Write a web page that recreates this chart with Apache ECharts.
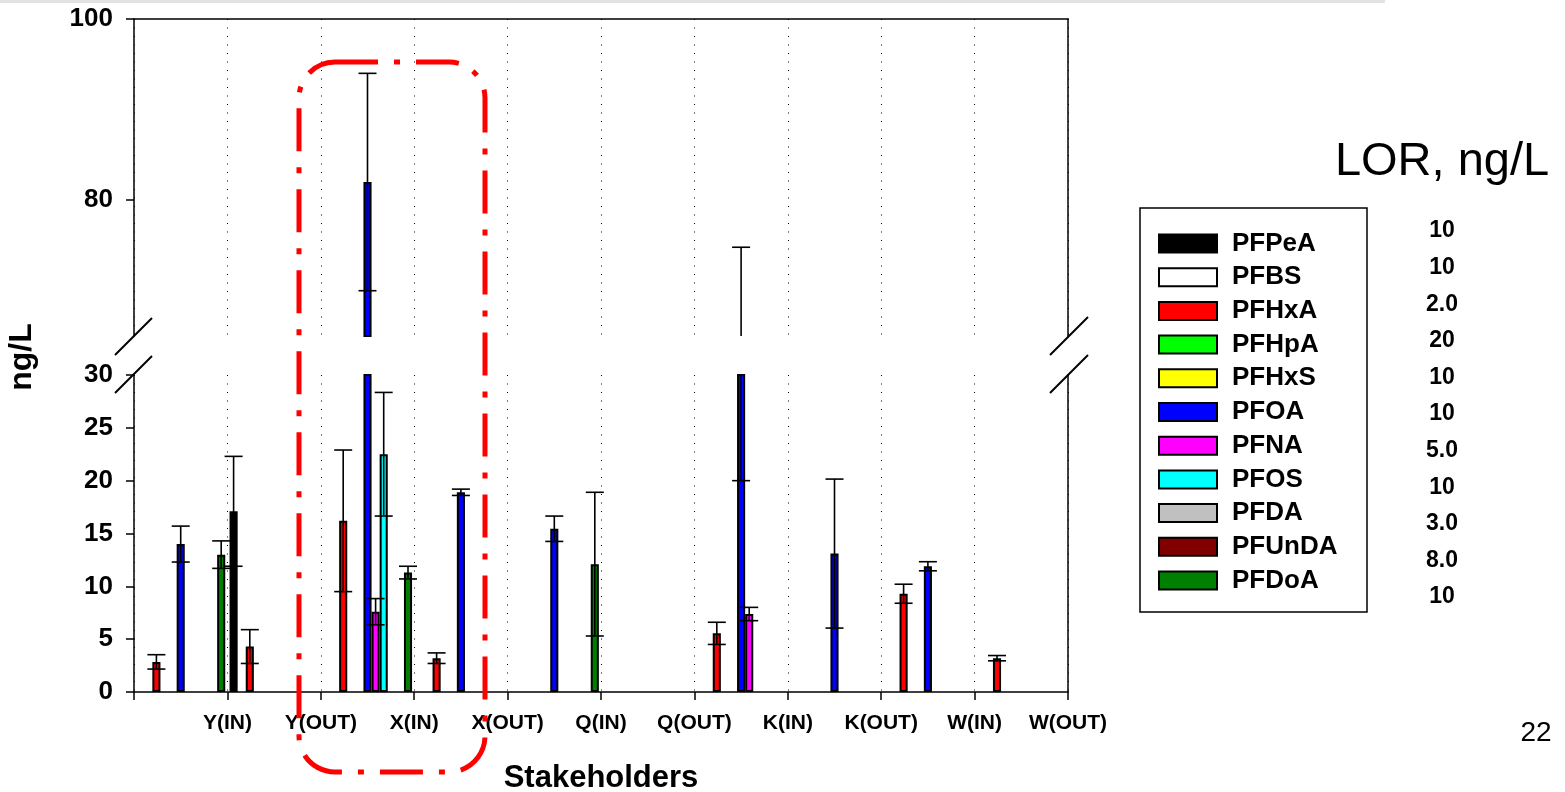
<!DOCTYPE html>
<html><head><meta charset="utf-8">
<script src="https://cdn.jsdelivr.net/npm/echarts@6/dist/echarts.min.js"></script>
<style>html,body{margin:0;padding:0;background:#fff}#c{width:1565px;height:792px}</style>
</head><body><div id="c"></div>
<script>
// ---------- data ----------
const categories = ['Y(IN)','Y(OUT)','X(IN)','X(OUT)','Q(IN)','Q(OUT)','K(IN)','K(OUT)','W(IN)','W(OUT)'];
const compounds = ['PFPeA','PFBS','PFHxA','PFHpA','PFHxS','PFOA','PFNA','PFOS','PFDA','PFUnDA','PFDoA'];
const colors = ['#000000','#ffffff','#ff0000','#00ff00','#ffff00','#0000ff','#ff00ff','#00ffff','#c0c0c0','#800000','#008000'];
const lorValues = ['10','10','2.0','20','10','10','5.0','10','3.0','8.0','10'];
const _ = null;
// mean concentrations (ng/L), one value per stakeholder group
const meanPFPeA  = [_, 17.1, _, _, _, _, _, _, _, _];
const meanPFBS   = [_, _, _, _, _, _, _, _, _, _];
const meanPFHxA  = [2.85, 4.3, 16.2, 3.2, _, _, 5.55, _, 9.3, 3.2];
const meanPFHpA  = [_, _, _, _, _, _, _, _, _, _];
const meanPFHxS  = [_, _, _, _, _, _, _, _, _, _];
const meanPFOA   = [14.0, _, 82.0, 18.9, 15.45, _, 47.4, 13.1, 11.9, _];
const meanPFNA   = [_, _, 7.6, _, _, _, 7.38, _, _, _];
const meanPFOS   = [_, _, 22.5, _, _, _, _, _, _, _];
const meanPFDA   = [_, _, _, _, _, _, _, _, _, _];
const meanPFUnDA = [_, _, _, _, _, _, _, _, _, _];
const meanPFDoA  = [13.0, _, 11.3, _, 12.1, _, _, _, _, _];
// error (half-width of error bar)
const errPFPeA  = [_, 5.2, _, _, _, _, _, _, _, _];
const errPFBS   = [_, _, _, _, _, _, _, _, _, _];
const errPFHxA  = [0.68, 1.6, 6.7, 0.5, _, _, 1.05, _, 0.9, 0.25];
const errPFHpA  = [_, _, _, _, _, _, _, _, _, _];
const errPFHxS  = [_, _, _, _, _, _, _, _, _, _];
const errPFOA   = [1.7, _, 12.0, 0.3, 1.2, _, 27.4, 7.05, 0.43, _];
const errPFNA   = [_, _, 1.24, _, _, _, 0.63, _, _, _];
const errPFOS   = [_, _, 5.85, _, _, _, _, _, _, _];
const errPFDA   = [_, _, _, _, _, _, _, _, _, _];
const errPFUnDA = [_, _, _, _, _, _, _, _, _, _];
const errPFDoA  = [1.3, _, 0.6, _, 6.8, _, _, _, _, _];

const means = [meanPFPeA, meanPFBS, meanPFHxA, meanPFHpA, meanPFHxS, meanPFOA, meanPFNA, meanPFOS, meanPFDA, meanPFUnDA, meanPFDoA];
const errs  = [errPFPeA, errPFBS, errPFHxA, errPFHpA, errPFHxS, errPFOA, errPFNA, errPFOS, errPFDA, errPFUnDA, errPFDoA];

// axis ranges / ticks
const lowerMin = 0, lowerMax = 30, lowerInterval = 5;
const upperMin = 65, upperMax = 100, upperTicks = [80, 100];

// ---------- styling ----------
const FONT = "'Liberation Sans', Arial, sans-serif";
const BAR_GAP = '0%', BAR_CAT_GAP = '4.6%';
const gridL = 134, gridR = 1565 - 1068;
const grids = [
  { left: gridL, right: gridR, top: 19, height: 317, outerBoundsMode: 'none', containLabel: false },   // upper (broken part)
  { left: gridL, right: gridR, top: 375, height: 317, outerBoundsMode: 'none', containLabel: false }   // lower
];

const chart = echarts.init(document.getElementById('c'), null, { renderer: 'canvas' });

function errRender(axMin, axMax) {
  return function (params, api) {
    const g = api.value(0), si = api.value(1), m = api.value(2), e = api.value(3);
    const lo = m - e, hi = m + e;
    if (hi <= axMin || lo >= axMax) return;
    const layout = api.barLayout({ barGap: BAR_GAP, barCategoryGap: BAR_CAT_GAP, count: compounds.length });
    const cx = api.coord([g, m])[0] + layout[si].offsetCenter;
    const yLo = api.coord([g, Math.max(lo, axMin)])[1];
    const yHi = api.coord([g, Math.min(hi, axMax)])[1];
    const st = { stroke: '#000', lineWidth: 1.6 };
    const hw = 9;
    const children = [{ type: 'line', shape: { x1: cx, y1: yLo, x2: cx, y2: yHi }, style: st }];
    if (lo >= axMin) children.push({ type: 'line', shape: { x1: cx - hw, y1: yLo, x2: cx + hw, y2: yLo }, style: st });
    if (hi <= axMax) children.push({ type: 'line', shape: { x1: cx - hw, y1: yHi, x2: cx + hw, y2: yHi }, style: st });
    return { type: 'group', children: children };
  };
}

const errData = [];
compounds.forEach((c, i) => {
  means[i].forEach((m, g) => {
    if (m != null && errs[i][g] != null) errData.push([g, i, m, errs[i][g]]);
  });
});

const series = [];
[0, 1].forEach(gi => {
  compounds.forEach((name, i) => {
    const data = means[i].map(v => {
      if (v == null) return '-';
      if (gi === 0 && v <= upperMin) return '-';
      return v;
    });
    series.push({
      type: 'bar', name: name, xAxisIndex: gi, yAxisIndex: gi * 2,
      data: data, barGap: BAR_GAP, barCategoryGap: BAR_CAT_GAP, clip: true,
      itemStyle: { color: colors[i], borderColor: '#000', borderWidth: 2 },
      emphasis: { disabled: true }, z: 2
    });
  });
  series.push({
    type: 'custom', name: 'err' + gi, xAxisIndex: gi, yAxisIndex: gi * 2,
    renderItem: gi === 0 ? errRender(upperMin, upperMax) : errRender(lowerMin, lowerMax),
    data: errData, encode: { x: 0, y: 2 }, z: 5, silent: true
  });
});

const catAxisBase = {
  type: 'category', data: categories, boundaryGap: true,
  axisLabel: { show: false },
  splitLine: { show: true, lineStyle: { color: '#000', width: 1, type: [1, 7.5] } }
};

const option = {
  backgroundColor: '#fff',
  animation: false,
  grid: grids,
  xAxis: [
    Object.assign({}, catAxisBase, {
      gridIndex: 0, position: 'top',
      axisLine: { show: true, lineStyle: { color: '#000', width: 1.5 } },
      axisTick: { show: false }
    }),
    Object.assign({}, catAxisBase, {
      gridIndex: 1, position: 'bottom',
      axisLine: { show: true, lineStyle: { color: '#000', width: 1.5 } },
      axisTick: { show: true, inside: false, length: 8, lineStyle: { color: '#000', width: 1.5 } }
    }),
    {
      type: 'value', gridIndex: 1, position: 'bottom', min: 0, max: categories.length, interval: 1,
      axisLine: { show: false }, axisTick: { show: false }, splitLine: { show: false },
      axisLabel: {
        show: true, showMinLabel: true, showMaxLabel: true, margin: 21,
        formatter: v => (v >= 1 ? categories[Math.round(v) - 1] : ''),
        fontFamily: FONT, fontSize: 21, fontWeight: 'bold', color: '#000'
      },
      name: 'Stakeholders', nameLocation: 'middle', nameGap: 71,
      nameTextStyle: { fontFamily: FONT, fontSize: 31, fontWeight: 'bold', color: '#000' }
    }
  ],
  yAxis: [
    {
      type: 'value', gridIndex: 0, min: upperMin, max: upperMax,
      axisLine: { show: true, lineStyle: { color: '#000', width: 1.5 } },
      axisTick: { show: true, length: 8, customValues: upperTicks, lineStyle: { color: '#000', width: 1.5 } },
      axisLabel: { show: true, customValues: upperTicks, margin: 21, fontFamily: FONT, fontSize: 26, fontWeight: 'bold', color: '#000' },
      splitLine: { show: false }
    },
    {
      type: 'value', gridIndex: 0, min: upperMin, max: upperMax, position: 'right',
      axisLine: { show: true, lineStyle: { color: '#000', width: 1.5 } },
      axisTick: { show: false }, axisLabel: { show: false }, splitLine: { show: false }
    },
    {
      type: 'value', gridIndex: 1, min: lowerMin, max: lowerMax, interval: lowerInterval,
      axisLine: { show: true, lineStyle: { color: '#000', width: 1.5 } },
      axisTick: { show: true, length: 8, lineStyle: { color: '#000', width: 1.5 } },
      axisLabel: { show: true, margin: 21, fontFamily: FONT, fontSize: 26, fontWeight: 'bold', color: '#000' },
      splitLine: { show: false }
    },
    {
      type: 'value', gridIndex: 1, min: lowerMin, max: lowerMax, interval: lowerInterval, position: 'right',
      axisLine: { show: true, lineStyle: { color: '#000', width: 1.5 } },
      axisTick: { show: false }, axisLabel: { show: false }, splitLine: { show: false }
    }
  ],
  legend: {
    data: compounds, orient: 'vertical', left: 1158, top: 230.5, padding: 0,
    itemWidth: 58, itemHeight: 18, itemGap: 7.7, icon: 'rect',
    selectedMode: false,
    itemStyle: { borderColor: '#000', borderWidth: 2 },
    textStyle: { fontFamily: FONT, fontSize: 26, fontWeight: 'bold', color: '#000', lineHeight: 25, padding: [0, 0, 0, 10] }
  },
  graphic: { elements: [
    { type: 'rect', shape: { x: 0, y: 0, width: 1385, height: 3 }, style: { fill: '#e3e3e3' }, silent: true },
    // axis break marks
    { type: 'line', shape: { x1: 115, y1: 355, x2: 152, y2: 318 }, style: { stroke: '#000', lineWidth: 2 } },
    { type: 'line', shape: { x1: 115, y1: 393, x2: 152, y2: 356 }, style: { stroke: '#000', lineWidth: 2 } },
    { type: 'line', shape: { x1: 1050, y1: 355, x2: 1088, y2: 317 }, style: { stroke: '#000', lineWidth: 2 } },
    { type: 'line', shape: { x1: 1050, y1: 393, x2: 1088, y2: 355 }, style: { stroke: '#000', lineWidth: 2 } },
    // red dash-dot highlight
    { type: 'rect', z: 100, shape: { x: 299, y: 62, width: 186, height: 710, r: 36 },
      style: { fill: 'none', stroke: '#ff0000', lineWidth: 5, lineDash: [43, 16, 6, 16] } },
    // legend box
    { type: 'rect', shape: { x: 1140, y: 208, width: 227, height: 404 }, style: { fill: 'none', stroke: '#000', lineWidth: 1.5 } },
    // y axis title
    { type: 'text', x: 22, y: 357, rotation: Math.PI / 2,
      style: { text: 'ng/L', fontFamily: FONT, fontSize: 32, fontWeight: 'bold', fill: '#000', align: 'center', verticalAlign: 'middle' } },
    { type: 'text', x: 1442, y: 162,
      style: { text: 'LOR, ng/L', fontFamily: FONT, fontSize: 47, fill: '#000', align: 'center', verticalAlign: 'middle' } },
    { type: 'text', x: 1536, y: 733,
      style: { text: '22', fontFamily: FONT, fontSize: 28, fill: '#000', align: 'center', verticalAlign: 'middle' } }
  ].concat(lorValues.map((t, i) => ({
    type: 'text', x: 1442, y: 231 + i * 36.6,
    style: { text: t, fontFamily: FONT, fontSize: 23, fontWeight: 'bold', fill: '#000', align: 'center', verticalAlign: 'middle' }
  }))) },
  series: series
};
chart.setOption(option);
</script>
</body></html>
